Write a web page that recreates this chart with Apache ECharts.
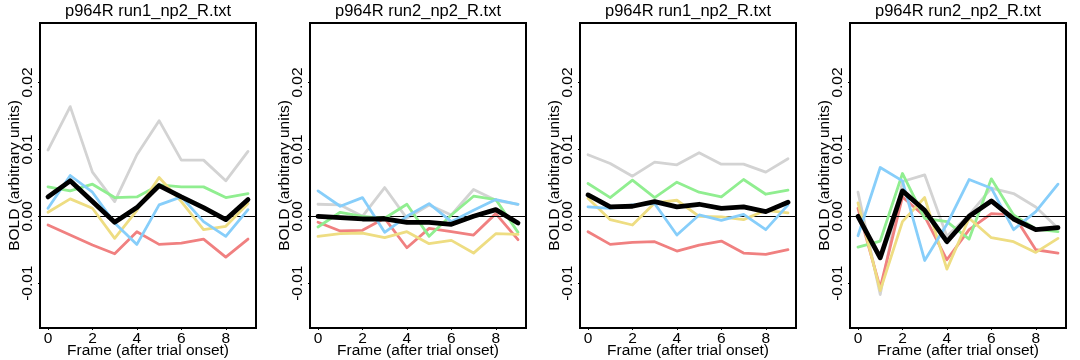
<!DOCTYPE html>
<html>
<head>
<meta charset="utf-8">
<script src="https://cdn.jsdelivr.net/npm/echarts@6/dist/echarts.min.js"></script>
<style>html,body{margin:0;padding:0;background:#fff;}#c{width:1080px;height:360px;}</style>
</head>
<body>
<div id="c"></div>
<script>
// ---- data ----
const frames = [0, 1, 2, 3, 4, 5, 6, 7, 8, 9];
const panelTitles = ["p964R run1_np2_R.txt", "p964R run2_np2_R.txt", "p964R run1_np2_R.txt", "p964R run2_np2_R.txt"];
const xTicks = [0, 2, 4, 6, 8];
const yTicks = [-0.01, 0, 0.01, 0.02];
const yTickLabels = ["-0.01", "0.00", "0.01", "0.02"];
const xTitle = "Frame (after trial onset)";
const yTitle = "BOLD (arbitrary units)";

// panel 1
const p1Gray   = [0.0099, 0.0164, 0.0066, 0.0022, 0.0092, 0.0143, 0.0084, 0.0084, 0.0053, 0.0097];
const p1Red    = [-0.0013, -0.0028, -0.0043, -0.0056, -0.0023, -0.0042, -0.0040, -0.0034, -0.0061, -0.0034];
const p1Green  = [0.0044, 0.0038, 0.0048, 0.0028, 0.0029, 0.0047, 0.0044, 0.0044, 0.0028, 0.0034];
const p1Yellow = [0.0006, 0.0026, 0.0012, -0.0033, 0.0009, 0.0058, 0.0022, -0.0020, -0.0015, 0.0019];
const p1Blue   = [0.0012, 0.0061, 0.0036, -0.0010, -0.0042, 0.0017, 0.0029, -0.0008, -0.0030, 0.0010];
const p1Mean   = [0.0029, 0.0053, 0.0022, -0.0009, 0.0013, 0.0046, 0.0029, 0.0013, -0.0005, 0.0025];
// panel 2
const p2Gray   = [0.0018, 0.0017, 0.0000, 0.0043, -0.0003, 0.0017, 0.0002, 0.0040, 0.0024, 0.0018];
const p2Red    = [-0.0009, -0.0022, -0.0021, -0.0003, -0.0047, -0.0018, -0.0023, -0.0028, 0.0004, -0.0035];
const p2Green  = [-0.0016, 0.0006, 0.0000, -0.0003, 0.0018, -0.0030, 0.0002, 0.0030, 0.0025, -0.0024];
const p2Yellow = [-0.0030, -0.0026, -0.0025, -0.0032, -0.0023, -0.0041, -0.0036, -0.0055, -0.0026, -0.0027];
const p2Blue   = [0.0038, 0.0015, 0.0028, -0.0024, 0.0000, 0.0019, -0.0008, 0.0009, 0.0025, 0.0018];
const p2Mean   = [0.0000, -0.0002, -0.0004, -0.0004, -0.0009, -0.0009, -0.0012, 0.0000, 0.0010, -0.0010];
// panel 3
const p3Gray   = [0.0092, 0.0079, 0.0060, 0.0081, 0.0077, 0.0095, 0.0078, 0.0078, 0.0066, 0.0086];
const p3Red    = [-0.0023, -0.0042, -0.0039, -0.0038, -0.0052, -0.0043, -0.0037, -0.0055, -0.0057, -0.0050];
const p3Green  = [0.0049, 0.0028, 0.0054, 0.0028, 0.0051, 0.0036, 0.0029, 0.0055, 0.0033, 0.0039];
const p3Yellow = [0.0027, -0.0005, -0.0013, 0.0020, 0.0024, 0.0000, -0.0001, -0.0005, 0.0009, 0.0005];
const p3Blue   = [0.0014, 0.0012, 0.0017, 0.0019, -0.0028, 0.0002, -0.0006, 0.0003, -0.0020, 0.0017];
const p3Mean   = [0.0032, 0.0014, 0.0015, 0.0022, 0.0014, 0.0018, 0.0012, 0.0014, 0.0007, 0.0021];
// panel 4
const p4Gray   = [0.0036, -0.0117, 0.0052, 0.0062, -0.0030, 0.0002, 0.0042, 0.0034, 0.0014, -0.0018];
const p4Red    = [0.0012, -0.0107, 0.0029, 0.0000, -0.0065, -0.0020, 0.0004, 0.0002, -0.0050, -0.0055];
const p4Green  = [-0.0046, -0.0037, 0.0064, -0.0003, -0.0008, -0.0034, 0.0056, 0.0002, -0.0019, -0.0023];
const p4Yellow = [0.0020, -0.0111, -0.0008, 0.0028, -0.0079, -0.0003, -0.0032, -0.0038, -0.0054, -0.0033];
const p4Blue   = [-0.0029, 0.0073, 0.0053, -0.0066, -0.0012, 0.0055, 0.0042, -0.0020, 0.0007, 0.0048];
const p4Mean   = [0.0000, -0.0062, 0.0038, 0.0009, -0.0038, 0.0000, 0.0023, -0.0004, -0.0020, -0.0017];

const panels = [
  [p1Gray, p1Red, p1Green, p1Yellow, p1Blue, p1Mean],
  [p2Gray, p2Red, p2Green, p2Yellow, p2Blue, p2Mean],
  [p3Gray, p3Red, p3Green, p3Yellow, p3Blue, p3Mean],
  [p4Gray, p4Red, p4Green, p4Yellow, p4Blue, p4Mean]
];
const colors = ["#D3D3D3", "#F08080", "#90EE90", "#EEDD82", "#87CEFA", "#000000"];
const widths = [2.8, 2.8, 2.8, 2.8, 2.8, 4.8];

// ---- chart ----
const FONT = "Liberation Sans, Arial, Helvetica, sans-serif";
const grids = [], xAxes = [], yAxes = [], series = [], titles = [];
panels.forEach((arrs, k) => {
  const left = 40 + 270 * k;
  grids.push({left: left, top: 23, width: 216, height: 305, show: true, containLabel: false,
    outerBoundsMode: "none",
    borderColor: "#000", borderWidth: 2, backgroundColor: "transparent"});
  titles.push({text: panelTitles[k], left: left + 108, top: 3, textAlign: "center", padding: 0,
    textStyle: {fontFamily: FONT, fontSize: 16.5, fontWeight: "normal", color: "#000"}});
  xAxes.push({type: "value", gridIndex: k, min: -0.36, max: 9.36,
    name: xTitle, nameLocation: "middle", nameGap: 15, nameMoveOverlap: false,
    nameTextStyle: {fontFamily: FONT, fontSize: 15.5, color: "#000"},
    axisLine: {show: false, onZero: false}, splitLine: {show: false},
    axisTick: {show: true, length: 2, customValues: xTicks, lineStyle: {color: "#000"}},
    axisLabel: {customValues: xTicks, margin: 3, fontFamily: FONT, fontSize: 15.5, color: "#000"}});
  yAxes.push({type: "value", gridIndex: k, min: -0.0167, max: 0.0289,
    name: yTitle, nameLocation: "middle", nameGap: 17, nameRotate: 90, nameMoveOverlap: false,
    nameTextStyle: {fontFamily: FONT, fontSize: 15.5, color: "#000"},
    axisLine: {show: false, onZero: false}, splitLine: {show: false},
    axisTick: {show: true, length: 2, customValues: yTicks, lineStyle: {color: "#000"}},
    axisLabel: {customValues: yTicks, rotate: 90, margin: 4, fontFamily: FONT, fontSize: 15.5, color: "#000",
      formatter: (v) => { const i = yTicks.findIndex(t => Math.abs(t - v) < 1e-9); return i >= 0 ? yTickLabels[i] : ""; }}});
  arrs.forEach((arr, j) => {
    const s = {type: "line", xAxisIndex: k, yAxisIndex: k, symbol: "none", silent: true, animation: false,
      data: frames.map((f, i) => [f, arr[i]]),
      lineStyle: {color: colors[j], width: widths[j], join: "round", cap: "round"}, z: 3 + j};
    if (j === 0) {
      s.markLine = {silent: true, symbol: "none", label: {show: false}, animation: false,
        lineStyle: {color: "#000", width: 1, type: "solid"}, data: [{yAxis: 0}]};
    }
    series.push(s);
  });
});

const chart = echarts.init(document.getElementById("c"), null, {renderer: "canvas"});
chart.setOption({animation: false, backgroundColor: "#fff", title: titles, grid: grids,
  xAxis: xAxes, yAxis: yAxes, series: series});
</script>
</body>
</html>
